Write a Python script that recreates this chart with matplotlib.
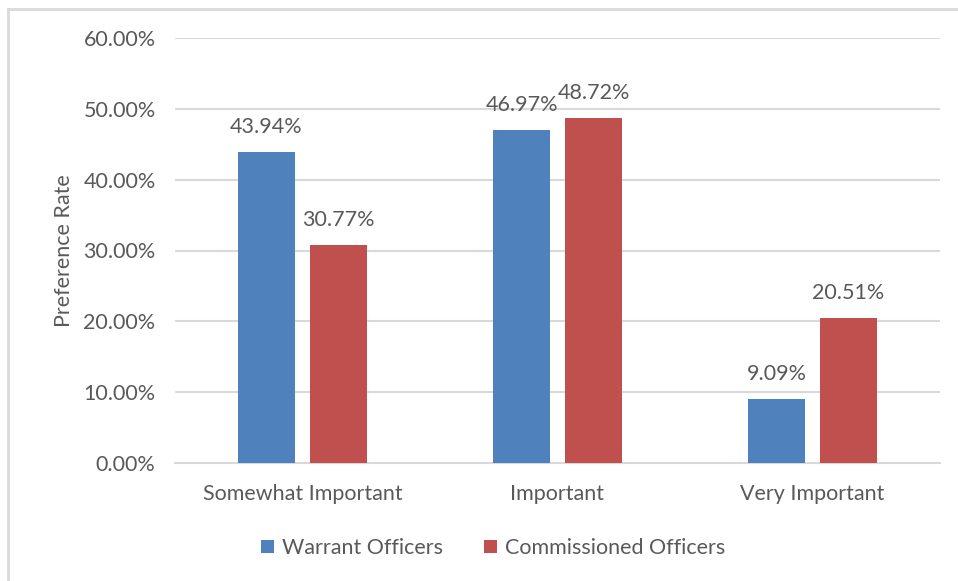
import matplotlib
matplotlib.use("Agg")
import matplotlib.pyplot as plt
import numpy as np
from matplotlib.lines import Line2D
from matplotlib.ticker import FuncFormatter

categories = ["Somewhat Important", "Important", "Very Important"]
warrant = [43.94, 46.97, 9.09]
commissioned = [30.77, 48.72, 20.51]
series_names = ["Warrant Officers", "Commissioned Officers"]
yticks = [0, 10, 20, 30, 40, 50, 60]

blue = "#4F81BD"
red = "#C0504D"
text_gray = "#595959"
grid_gray = "#D9D9D9"
fs = 15.5

plt.rcParams["font.family"] = ["Lato", "DejaVu Sans"]

W, H = 958, 581
fig = plt.figure(figsize=(W / 100, H / 100), dpi=100)
fig.patch.set_facecolor("white")

# outer chart frame (top and left edges)
fig.add_artist(Line2D([8 / W, 8 / W], [0, 1 - 9 / H], transform=fig.transFigure,
                      color=grid_gray, lw=2))
fig.add_artist(Line2D([8 / W, 1], [1 - 9 / H, 1 - 9 / H], transform=fig.transFigure,
                      color=grid_gray, lw=2))

left, right, top, bottom = 175, 940, 38, 463
ax = fig.add_axes([left / W, 1 - bottom / H, (right - left) / W, (bottom - top) / H])

x = np.arange(len(categories))
width = 0.224
offset = 0.141
b1 = ax.bar(x - offset, warrant, width, color=blue, label=series_names[0], zorder=3)
b2 = ax.bar(x + offset, commissioned, width, color=red, label=series_names[1], zorder=3)

for bars, vals in ((b1, warrant), (b2, commissioned)):
    for bar, v in zip(bars, vals):
        ax.annotate(f"{v:.2f}%", (bar.get_x() + bar.get_width() / 2, v),
                    xytext=(0, 18), textcoords="offset points",
                    ha="center", va="center", fontsize=fs, color=text_gray)

ax.set_xlim(-0.5, 2.5)
ax.set_ylim(0, 60)
ax.set_yticks(yticks)
ax.yaxis.set_major_formatter(FuncFormatter(lambda v, p: f"{v:.2f}%"))
ax.set_xticks(x)
ax.set_xticklabels(categories)
ax.grid(axis="y", color=grid_gray, lw=1.5, zorder=0)
for s in ("top", "right", "left"):
    ax.spines[s].set_visible(False)
ax.spines["bottom"].set_color(grid_gray)
ax.spines["bottom"].set_linewidth(1.5)
ax.tick_params(axis="both", length=0, labelsize=fs, labelcolor=text_gray)
ax.tick_params(axis="y", pad=14)
ax.tick_params(axis="x", pad=15)
ax.set_ylabel("Preference Rate", fontsize=fs, color=text_gray, labelpad=7)

ax.legend(loc="center", bbox_to_anchor=(0.416, -0.2), ncol=2, frameon=False,
          fontsize=fs, labelcolor=text_gray, handlelength=0.6, handleheight=0.6,
          handletextpad=0.37, columnspacing=1.9)

fig.savefig("out.png", dpi=100, facecolor="white")
